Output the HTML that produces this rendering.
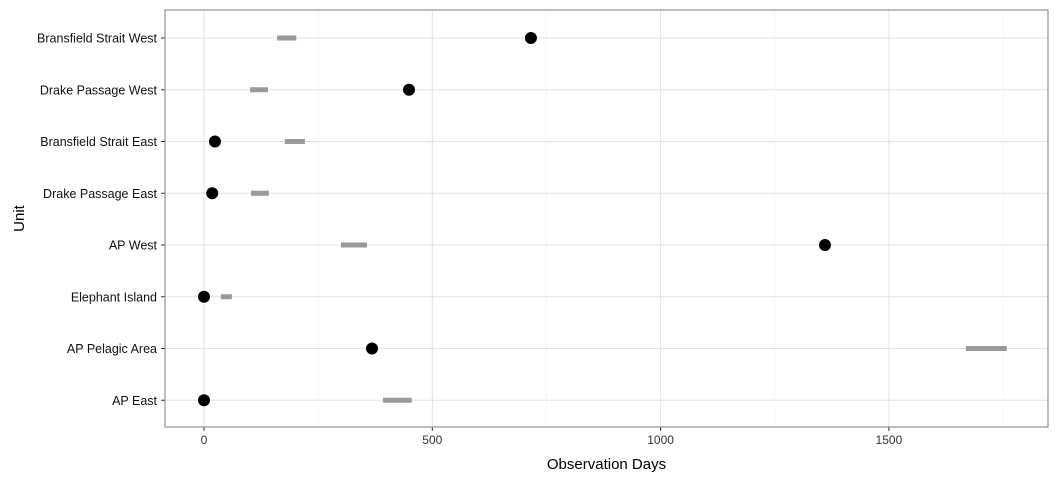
<!DOCTYPE html>
<html><head><meta charset="utf-8"><style>
body{margin:0;background:#fff;}
svg{display:block;font-family:"Liberation Sans",Arial,sans-serif;}
</style></head><body>
<svg id="chart" width="1056" height="480" viewBox="0 0 1056 480"></svg>
<script>
const categories=["Bransfield Strait West","Drake Passage West","Bransfield Strait East","Drake Passage East","AP West","Elephant Island","AP Pelagic Area","AP East"];
const pointValues=[716,449,24,18,1360,0,368,0];
const rangeLow=[160,101,177,103,300,37,1669,392];
const rangeHigh=[202,140,221,142,357,61,1758,455];
const xTicks=[0,500,1000,1500];
const xMinor=[250,750,1250,1750];
const NS="http://www.w3.org/2000/svg";
const svg=document.getElementById('chart');
const L=165,R=1048,T=10,B=427;
const x=v=>204+v*(228.3/500);
const y=i=>38+i*51.75;
function mk(tag,attrs,parent){const e=document.createElementNS(NS,tag);for(const k in attrs)e.setAttribute(k,attrs[k]);(parent||svg).appendChild(e);return e;}
const grid=mk('g',{});


xMinor.forEach(v=>{if(x(v)<R)mk('line',{x1:x(v),x2:x(v),y1:T,y2:B,stroke:'#f2f2f2','stroke-width':0.6},grid);});
xTicks.forEach(v=>mk('line',{x1:x(v),x2:x(v),y1:T,y2:B,stroke:'#e3e3e3','stroke-width':1},grid));
categories.forEach((c,i)=>mk('line',{x1:L,x2:R,y1:y(i),y2:y(i),stroke:'#e3e3e3','stroke-width':1},grid));
categories.forEach((c,i)=>{
 const r=mk('line',{x1:x(rangeLow[i]),x2:x(rangeHigh[i]),y1:y(i),y2:y(i),stroke:'#999','stroke-width':5});
 
 
 const p=mk('circle',{cx:x(pointValues[i]),cy:y(i),r:6,fill:'#000'});
 
 
 mk('line',{x1:L-4,x2:L,y1:y(i),y2:y(i),stroke:'#333','stroke-width':1});
 const t=mk('text',{x:L-8,y:y(i)+4.5,'text-anchor':'end','font-size':12.5,fill:'#111'});
 t.textContent=c;
 
 
});
xTicks.forEach(v=>{
 mk('line',{x1:x(v),x2:x(v),y1:B,y2:B+4,stroke:'#333','stroke-width':1});
 const t=mk('text',{x:x(v),y:B+17,'text-anchor':'middle','font-size':12,fill:'#333'});
 t.textContent=v;
 
 
});
const fr=mk('rect',{x:L,y:T,width:R-L,height:B-T,fill:'none',stroke:'#7f7f7f','stroke-width':1});


const xt=mk('text',{x:(L+R)/2,y:469,'text-anchor':'middle','font-size':15,fill:'#000'});
xt.textContent='Observation Days';


const yt=mk('text',{x:0,y:0,'text-anchor':'middle','font-size':15,fill:'#000',transform:`translate(24,${(T+B)/2}) rotate(-90)`});
yt.textContent='Unit';


</script>
</body></html>
